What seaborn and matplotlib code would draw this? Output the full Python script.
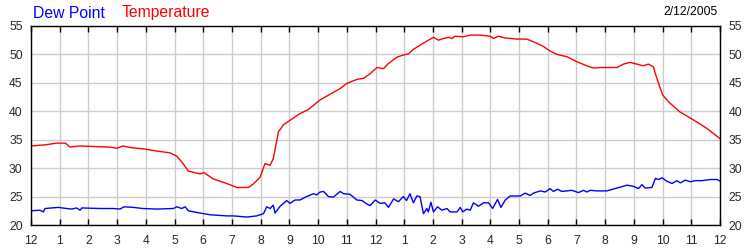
import matplotlib
matplotlib.use("Agg")
import matplotlib.pyplot as plt
import seaborn as sns
import pandas as pd

# ---- data ----
temp_hours = [0, 0.5, 0.9, 1.2, 1.36, 1.7, 2.2, 2.75, 3.0, 3.2,
              3.5, 3.9, 4.38, 4.84, 5.08, 5.25, 5.48, 5.7, 5.89, 6.03,
              6.35, 6.82, 7.17, 7.57, 7.74, 7.98, 8.15, 8.33, 8.44, 8.62,
              8.79, 9.02, 9.37, 9.66, 10.07, 10.42, 10.77, 11.0, 11.35, 11.58,
              11.81, 12.05, 12.28, 12.45, 12.74, 12.97, 13.15, 13.32, 13.67, 14.02,
              14.19, 14.37, 14.54, 14.66, 14.77, 15.06, 15.3, 15.64, 15.99, 16.11,
              16.28, 16.52, 16.92, 17.27, 17.56, 17.85, 18.08, 18.32, 18.67, 19.02,
              19.36, 19.6, 19.83, 20.41, 20.64, 20.87, 21.1, 21.33, 21.51, 21.68,
              21.8, 22.0, 22.2, 22.6, 23.07, 23.54, 24.0]
temperature = [33.9, 34.1, 34.4, 34.4, 33.7, 33.9, 33.8, 33.7, 33.5, 33.9,
               33.6, 33.4, 33.0, 32.7, 32.1, 31.1, 29.5, 29.2, 29.0, 29.2,
               28.1, 27.3, 26.6, 26.6, 27.2, 28.4, 30.8, 30.5, 31.7, 36.4,
               37.6, 38.4, 39.6, 40.3, 42.0, 43.0, 44.0, 44.9, 45.6, 45.8,
               46.6, 47.7, 47.5, 48.4, 49.5, 49.9, 50.1, 50.9, 52.0, 53.0,
               52.5, 52.8, 53.0, 52.8, 53.2, 53.1, 53.4, 53.4, 53.2, 52.8,
               53.2, 52.9, 52.7, 52.7, 52.1, 51.4, 50.6, 50.0, 49.6, 48.7,
               48.0, 47.6, 47.7, 47.7, 48.3, 48.6, 48.3, 48.0, 48.3, 47.8,
               45.8, 42.9, 41.7, 39.9, 38.5, 37.0, 35.2]

dew_hours = [0, 0.31, 0.43, 0.49, 0.95, 1.24, 1.42, 1.59, 1.71, 1.77,
             2.4, 2.87, 3.1, 3.24, 3.56, 3.9, 4.38, 4.96, 5.08, 5.25,
             5.37, 5.48, 5.89, 6.12, 6.24, 6.82, 7.05, 7.52, 7.86, 8.1,
             8.21, 8.33, 8.44, 8.5, 8.68, 8.91, 9.02, 9.2, 9.37, 9.6,
             9.84, 9.95, 10.07, 10.19, 10.36, 10.53, 10.77, 10.89, 11.11, 11.35,
             11.53, 11.7, 11.81, 11.99, 12.16, 12.33, 12.45, 12.63, 12.8, 12.97,
             13.08, 13.2, 13.32, 13.44, 13.55, 13.67, 13.79, 13.84, 13.93, 14.02,
             14.16, 14.31, 14.49, 14.6, 14.84, 14.95, 15.04, 15.18, 15.3, 15.41,
             15.59, 15.76, 15.94, 16.08, 16.25, 16.37, 16.52, 16.69, 17.04, 17.21,
             17.39, 17.5, 17.74, 17.91, 18.08, 18.2, 18.34, 18.49, 18.84, 19.07,
             19.25, 19.36, 19.48, 19.71, 20.06, 20.41, 20.76, 20.99, 21.16, 21.28,
             21.4, 21.63, 21.75, 21.86, 21.98, 22.15, 22.33, 22.5, 22.62, 22.79,
             22.96, 23.14, 23.37, 23.66, 23.9, 24.0]
dew_point = [22.5, 22.6, 22.3, 22.9, 23.1, 22.9, 22.8, 23.0, 22.6, 23.0,
             22.9, 22.9, 22.8, 23.2, 23.1, 22.9, 22.8, 22.9, 23.2, 22.9,
             23.2, 22.5, 22.1, 21.9, 21.8, 21.6, 21.6, 21.4, 21.6, 22.0,
             23.2, 22.9, 23.5, 22.1, 23.3, 24.3, 23.8, 24.4, 24.4, 25.0,
             25.5, 25.3, 25.8, 25.9, 25.0, 24.9, 25.9, 25.5, 25.4, 24.4,
             24.3, 23.7, 23.4, 24.4, 23.8, 23.9, 23.1, 24.6, 24.1, 25.0,
             24.3, 25.5, 23.9, 25.1, 25.0, 22.0, 22.9, 22.3, 24.0, 22.3,
             23.2, 22.6, 22.9, 22.3, 22.3, 23.1, 22.3, 22.8, 22.6, 23.9,
             23.3, 23.9, 23.9, 22.9, 24.5, 23.1, 24.4, 25.1, 25.1, 25.6,
             25.2, 25.6, 26.0, 25.8, 26.4, 25.9, 26.3, 25.9, 26.1, 25.7,
             26.1, 25.8, 26.1, 26.0, 26.0, 26.5, 27.0, 26.8, 26.4, 27.1,
             26.5, 26.6, 28.2, 28.0, 28.3, 27.7, 27.3, 27.8, 27.4, 27.9,
             27.6, 27.8, 27.8, 28.0, 28.0, 27.7]

x_tick_labels = ["12", "1", "2", "3", "4", "5", "6", "7", "8", "9", "10", "11",
                 "12", "1", "2", "3", "4", "5", "6", "7", "8", "9", "10", "11", "12"]
y_ticks = [20, 25, 30, 35, 40, 45, 50, 55]
date_label = "2/12/2005"

# ---- plot ----
sns.set_style("white")
plt.rcParams["font.family"] = ["Liberation Sans", "DejaVu Sans"]

fig = plt.figure(figsize=(7.5, 2.5), dpi=100)
ax = fig.add_axes([31 / 750, 25 / 250, 689 / 750, 199 / 250])

temp_df = pd.DataFrame({"hour": temp_hours, "value": temperature})
dew_df = pd.DataFrame({"hour": dew_hours, "value": dew_point})

sns.lineplot(data=temp_df, x="hour", y="value", ax=ax, color="#ff0000", lw=1.0)
sns.lineplot(data=dew_df, x="hour", y="value", ax=ax, color="#0000ff", lw=1.0)

ax.set_xlim(0, 24)
ax.set_ylim(20, 55)
ax.set_xticks(range(25))
ax.set_xticklabels(x_tick_labels)
ax.set_yticks(y_ticks)
ax.set_xlabel("")
ax.set_ylabel("")
ax.grid(True, color="#cccccc", lw=1.0)
ax.set_axisbelow(True)
for s in ax.spines.values():
    s.set_color("black")
    s.set_linewidth(1.0)

ax.tick_params(axis="x", direction="in", length=4, width=1, color="black",
               top=True, bottom=True, labelsize=8.7, pad=7)
ax.tick_params(axis="y", length=0, left=True, right=True,
               labelleft=True, labelright=True, labelsize=8.7, pad=6)

fig.text(33 / 750, 1 - 13 / 250, "Dew Point", color="#0000ff", fontsize=11.3,
         ha="left", va="center")
fig.text(122 / 750, 1 - 13 / 250, "Temperature", color="#ff0000", fontsize=11.3,
         ha="left", va="center")
fig.text(718 / 750, 1 - 12 / 250, date_label, color="black", fontsize=8.7,
         ha="right", va="center")

fig.savefig("out.png", dpi=100)
